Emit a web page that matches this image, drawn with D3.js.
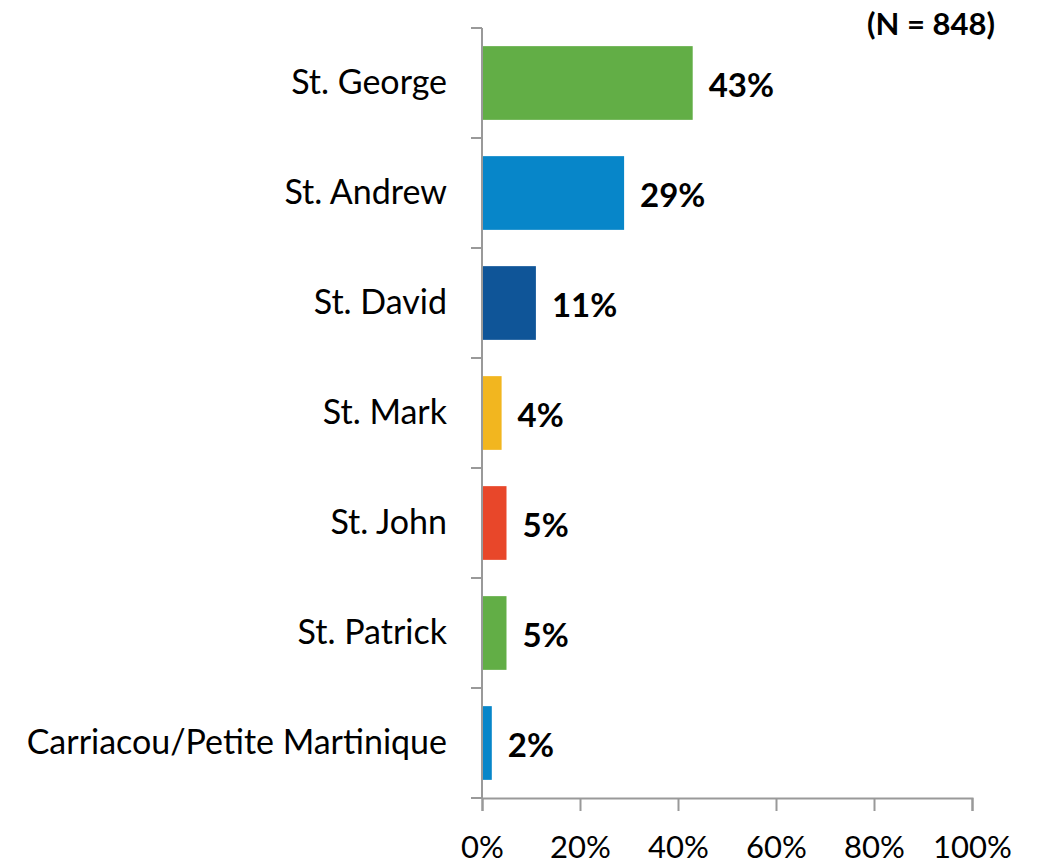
<!DOCTYPE html>
<html>
<head>
<meta charset="utf-8">
<script src="https://cdn.jsdelivr.net/npm/d3@7"></script>
<style>
  body { margin: 0; background: #fff; }
  text { font-family: Lato, "Open Sans", sans-serif; }
</style>
</head>
<body>
<div id="chart"></div>
<script>
// chart values
var parishes = ["St. George", "St. Andrew", "St. David", "St. Mark", "St. John", "St. Patrick", "Carriacou/Petite Martinique"];
var shares = [43, 29, 11, 4, 5, 5, 2];
var barColors = ["#62ae46", "#0786c9", "#0f5598", "#f2b61f", "#e8472a", "#62ae46", "#0786c9"];
var xTicks = [0, 20, 40, 60, 80, 100];
var sampleNote = "(N = 848)";

var svg_width = 1037;
var svg_height = 864;
var margin = { top: 28, right: 65, bottom: 66, left: 482 };
var width = svg_width - margin.left - margin.right;
var height = svg_height - margin.top - margin.bottom;

var svg = d3.select("#chart")
    .append("svg")
    .attr("width", svg_width)
    .attr("height", svg_height);

var chart = svg.append("g")
    .attr("transform", `translate(${margin.left}, ${margin.top})`);

var x_scale = d3.scaleLinear().domain([0, 100]).range([0, 490]);
var y_scale = d3.scaleBand().domain(parishes).range([0, height]).paddingInner(0.33).paddingOuter(0.165);

// bars
chart.selectAll(".bar")
    .data(parishes)
    .enter()
    .append("rect")
    .attr("x", 0)
    .attr("y", d => y_scale(d))
    .attr("width", (d, i) => x_scale(shares[i]))
    .attr("height", y_scale.bandwidth())
    .attr("fill", (d, i) => barColors[i]);

// value labels
chart.selectAll(".val")
    .data(parishes)
    .enter()
    .append("text")
    .attr("x", (d, i) => x_scale(shares[i]) + 16)
    .attr("y", d => y_scale(d) + y_scale.bandwidth() / 2 + 14)
    .style("font-size", "33px")
    .style("font-weight", "bold")
    .attr("fill", "#000")
    .text((d, i) => shares[i] + "%");

// category labels
chart.selectAll(".cat")
    .data(parishes)
    .enter()
    .append("text")
    .attr("x", -35)
    .attr("y", d => y_scale(d) + y_scale.bandwidth() / 2 + 11)
    .attr("text-anchor", "end")
    .style("font-size", "34px")
    .attr("fill", "#000")
    .text(d => d);

// y axis line with ticks between categories
var yAxis = chart.append("g");
yAxis.append("line")
    .attr("x1", 0).attr("x2", 0)
    .attr("y1", 0).attr("y2", height)
    .attr("stroke", "#999").attr("stroke-width", 2);
var step = height / parishes.length;
yAxis.selectAll(".ytick")
    .data(d3.range(parishes.length + 1))
    .enter()
    .append("line")
    .attr("x1", -11).attr("x2", 0)
    .attr("y1", d => d * step).attr("y2", d => d * step)
    .attr("stroke", "#999").attr("stroke-width", 2);

// x axis
var bottom_axis = d3.axisBottom(x_scale)
    .tickValues(xTicks)
    .tickSize(13)
    .tickPadding(25)
    .tickFormat(d => d + "%");
var xAxis = chart.append("g")
    .attr("transform", `translate(0, ${height})`)
    .call(bottom_axis);
xAxis.select(".domain").attr("stroke", "#999").attr("stroke-width", 2);
xAxis.selectAll(".tick line").attr("stroke", "#999").attr("stroke-width", 2);
xAxis.selectAll(".tick text")
    .style("font-size", "31px")
    .style("font-family", "Lato, 'Open Sans', sans-serif")
    .attr("fill", "#000");

// sample size note
svg.append("text")
    .attr("x", 995)
    .attr("y", 35)
    .attr("text-anchor", "end")
    .style("font-size", "31px")
    .style("font-weight", "bold")
    .attr("fill", "#000")
    .text(sampleNote);
</script>
</body>
</html>
